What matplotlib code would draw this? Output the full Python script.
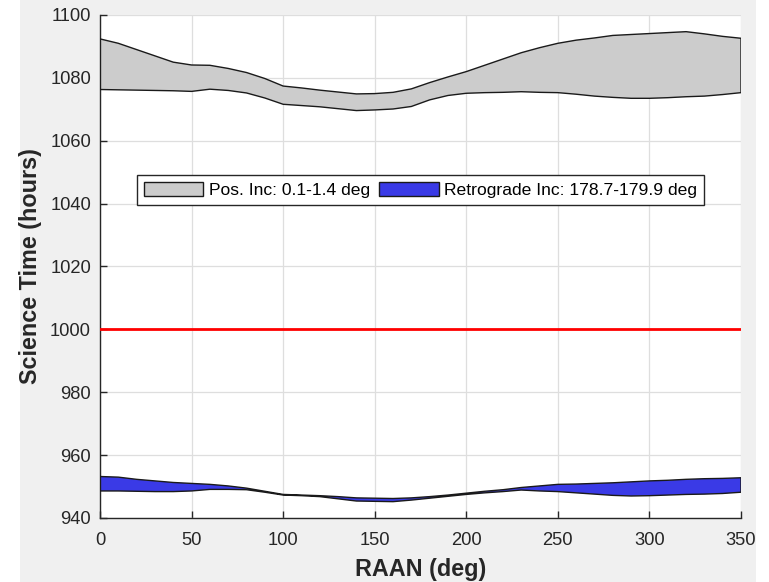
import numpy as np
import matplotlib.pyplot as plt
from matplotlib.patches import Rectangle, Patch

plt.rcParams['font.family'] = ['Liberation Sans', 'DejaVu Sans']

# RAAN sweep (deg)
raan = np.arange(0, 360, 10)

# Pos. Inc band (hours)
pos_upper = [1092.4, 1091.0, 1089.0, 1087.0, 1085.0, 1084.1, 1084.0, 1083.0, 1081.7, 1079.8,
             1077.4, 1076.8, 1076.1, 1075.5, 1074.9, 1075.0, 1075.4, 1076.5, 1078.5, 1080.3,
             1082.0, 1084.0, 1086.0, 1088.0, 1089.6, 1091.0, 1092.0, 1092.7, 1093.5, 1093.8,
             1094.1, 1094.4, 1094.7, 1094.0, 1093.2, 1092.6]
pos_lower = [1076.3, 1076.2, 1076.1, 1076.0, 1075.9, 1075.7, 1076.4, 1076.0, 1075.2, 1073.6,
             1071.6, 1071.2, 1070.8, 1070.2, 1069.6, 1069.8, 1070.1, 1070.9, 1073.0, 1074.4,
             1075.1, 1075.3, 1075.4, 1075.6, 1075.4, 1075.3, 1074.8, 1074.2, 1073.8, 1073.5,
             1073.5, 1073.7, 1074.0, 1074.2, 1074.7, 1075.3]

# Retrograde band (hours)
retro_upper = [953.2, 953.0, 952.3, 951.8, 951.3, 951.0, 950.7, 950.2, 949.5, 948.5,
               947.5, 947.3, 947.1, 946.8, 946.4, 946.3, 946.2, 946.4, 946.8, 947.3,
               947.9, 948.5, 949.0, 949.7, 950.2, 950.7, 950.8, 951.0, 951.2, 951.5,
               951.8, 952.0, 952.3, 952.5, 952.6, 952.8]
retro_lower = [948.6, 948.6, 948.5, 948.4, 948.4, 948.6, 949.1, 949.1, 949.0, 948.2,
               947.3, 947.1, 946.8, 946.1, 945.4, 945.3, 945.2, 945.7, 946.3, 946.9,
               947.5, 948.0, 948.4, 948.9, 948.6, 948.4, 948.0, 947.6, 947.2, 947.0,
               947.1, 947.3, 947.5, 947.6, 947.8, 948.2]

requirement = 1000

fig = plt.figure(figsize=(7.69, 5.82), dpi=100, facecolor='white')
fig.patches.append(Rectangle((20 / 769, 0), 736 / 769, 1, transform=fig.transFigure,
                             facecolor='#f0f0f0', edgecolor='none', zorder=-10))
ax = fig.add_axes([100 / 769, 64 / 582, 641 / 769, 503 / 582])

edge = '#1a1a1a'
ax.fill_between(raan, pos_lower, pos_upper, facecolor='#cccccc', edgecolor='none', zorder=2)
ax.fill_between(raan, retro_lower, retro_upper, facecolor='#3a3ae6', edgecolor='none', zorder=2)
for lo, hi in [(pos_lower, pos_upper), (retro_lower, retro_upper)]:
    xs = np.concatenate([raan, raan[::-1], raan[:1]])
    ys = np.concatenate([hi, lo[::-1], hi[:1]])
    ax.plot(xs, ys, color=edge, lw=1.0, zorder=3)

ax.axhline(requirement, color='red', lw=2.0, zorder=4)

ax.set_xlim(0, 350)
ax.set_ylim(940, 1100)
ax.set_xticks(np.arange(0, 351, 50))
ax.set_yticks(np.arange(940, 1101, 20))
ax.grid(True, color='#dedede', lw=0.9, zorder=0)
ax.set_axisbelow(True)
for s in ['top', 'right']:
    ax.spines[s].set_visible(False)
for s in ['left', 'bottom']:
    ax.spines[s].set_color('#262626')
    ax.spines[s].set_linewidth(1.0)
ax.tick_params(direction='in', length=5, width=1, colors='#262626', labelsize=13.2,
               labelcolor='#262626')
ax.tick_params(axis='x', pad=10)
ax.tick_params(axis='y', pad=6.5)

ax.set_xlabel('RAAN (deg)', fontsize=16.8, fontweight='bold', color='#262626')
ax.set_ylabel('Science Time (hours)', fontsize=16.8, fontweight='bold', color='#262626')
ax.xaxis.set_label_coords(0.5, -0.080)
ax.yaxis.set_label_coords(-0.090, 0.5)

handles = [Patch(facecolor='#cccccc', edgecolor=edge, lw=1.0),
           Patch(facecolor='#3a3ae6', edgecolor=edge, lw=1.0)]
leg = ax.legend(handles, ['Pos. Inc: 0.1-1.4 deg', 'Retrograde Inc: 178.7-179.9 deg'],
                loc='center', bbox_to_anchor=(0.5, 0.652), ncol=2, fontsize=12.6,
                fancybox=False, framealpha=1, edgecolor='#262626', handlelength=3.4,
                handleheight=0.9, handletextpad=0.3, columnspacing=0.55, borderpad=0.4)
leg.get_frame().set_linewidth(1.0)

fig.savefig('out.png', dpi=100, facecolor=fig.get_facecolor())
